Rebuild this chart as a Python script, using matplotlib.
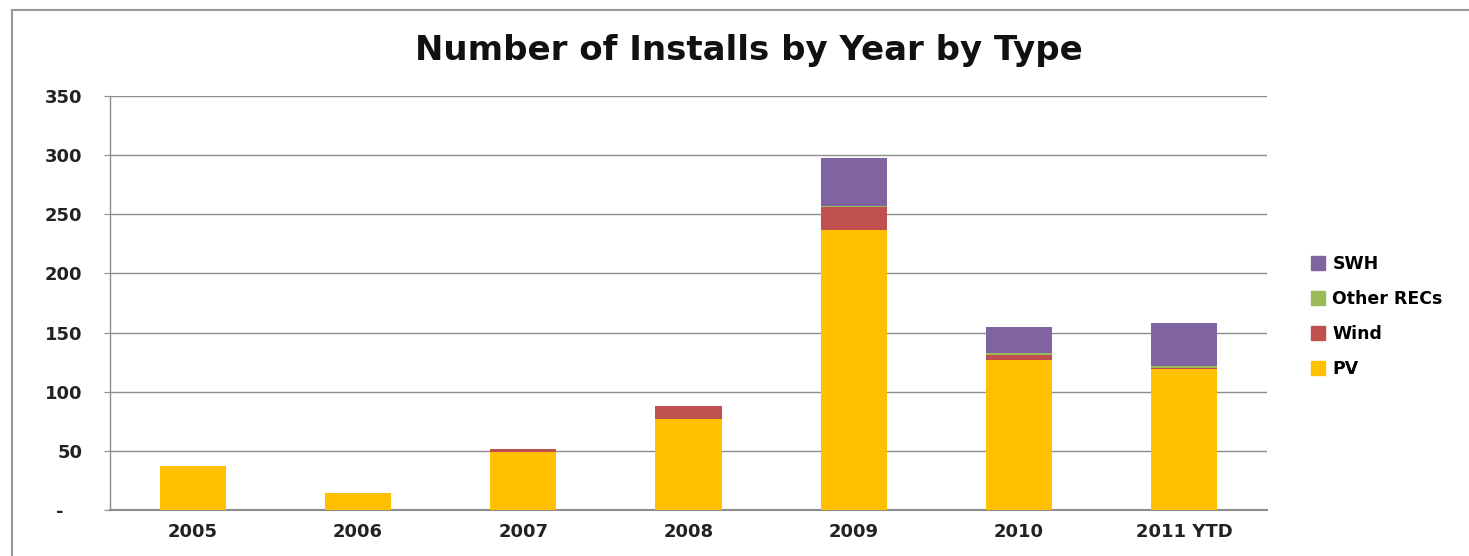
import matplotlib
matplotlib.use("Agg")
import matplotlib.pyplot as plt
from matplotlib.lines import Line2D
import numpy as np

# chart data
years = ['2005', '2006', '2007', '2008', '2009', '2010', '2011 YTD']
pv = [37, 14, 49, 77, 237, 127, 119]
wind = [0, 0, 3, 11, 19, 4, 1]
other_recs = [0, 0, 0, 0, 1, 2, 2]
swh = [0, 0, 0, 0, 41, 22, 36]
ytick_vals = [0, 50, 100, 150, 200, 250, 300, 350]
ytick_labels = ['-   ', '50', '100', '150', '200', '250', '300', '350']

COLORS = {'PV': '#FFC000', 'Wind': '#C0504D', 'Other RECs': '#9BBB59', 'SWH': '#8064A2'}

plt.rcParams['font.family'] = ['DejaVu Sans']

fig = plt.figure(figsize=(14.69, 5.56), dpi=100)
ax = fig.add_axes([0.0749, 0.0827, 0.7876, 0.7446])

x = np.arange(len(years))
w = 0.4
bottom = np.zeros(len(years))
for name, vals in [('PV', pv), ('Wind', wind), ('Other RECs', other_recs), ('SWH', swh)]:
    ax.bar(x, vals, w, bottom=bottom, color=COLORS[name], zorder=3, linewidth=0)
    bottom += np.array(vals)

ax.set_xlim(-0.5, len(years) - 0.5)
ax.set_ylim(0, 350)
ax.set_yticks(ytick_vals)
ax.set_yticklabels(ytick_labels, fontsize=13, fontweight='bold', color='#222222')
ax.set_xticks(x)
ax.set_xticklabels(years, fontsize=13, fontweight='bold', color='#222222')
ax.yaxis.grid(True, color='#8c8c8c', linewidth=1, zorder=0)
ax.tick_params(axis='x', length=0, pad=9)
ax.tick_params(axis='y', length=4, color='#8c8c8c', pad=16)
for s in ['top', 'right']:
    ax.spines[s].set_visible(False)
ax.spines['left'].set_color('#8c8c8c')
ax.spines['bottom'].set_color('#8c8c8c')
ax.spines['left'].set_linewidth(1)
ax.spines['bottom'].set_linewidth(1.5)

fig.text(0.51, 0.91, 'Number of Installs by Year by Type', ha='center', va='center',
         fontsize=24.5, fontweight='bold', color='#111111')

# legend, top entry first
handles = [Line2D([0], [0], marker='s', linestyle='none', markersize=10,
                  markerfacecolor=COLORS[n], markeredgecolor=COLORS[n])
           for n in ['SWH', 'Other RECs', 'Wind', 'PV']]
fig.legend(handles, ['SWH', 'Other RECs', 'Wind', 'PV'], loc='center left',
           bbox_to_anchor=(0.881, 0.43), frameon=False,
           prop={'weight': 'bold', 'size': 12.5},
           labelspacing=0.98, handletextpad=0.3, handlelength=1.0)

# outer frame lines (left and top) as in the source image
fig.add_artist(Line2D([0.0082, 0.0082], [0, 0.982], color='#999999', linewidth=1.5))
fig.add_artist(Line2D([0.0082, 1.0], [0.982, 0.982], color='#999999', linewidth=1.5))

fig.savefig('out.png', dpi=100)
